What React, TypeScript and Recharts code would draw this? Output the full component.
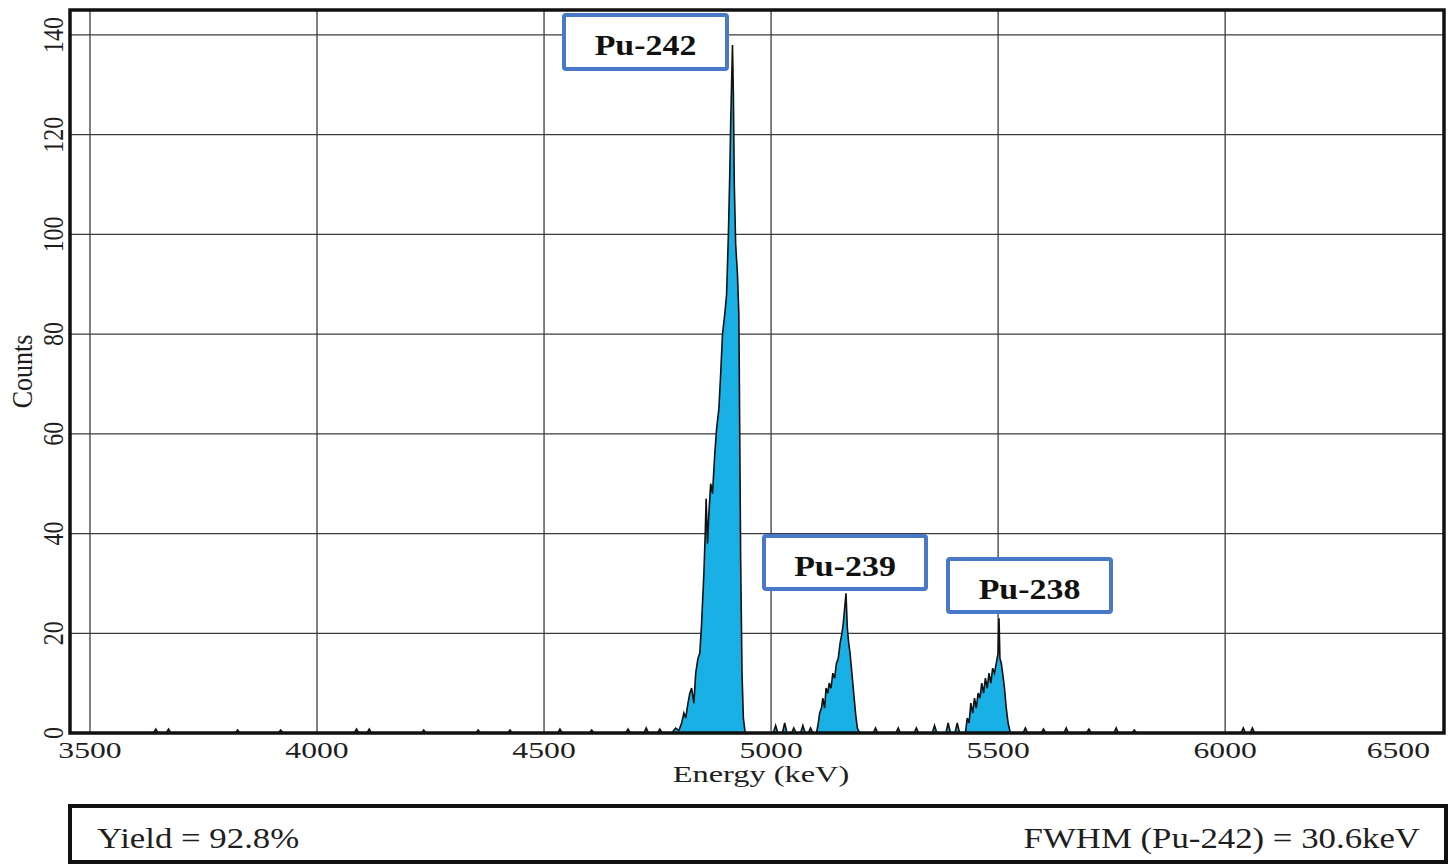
import React from 'react';
import { ComposedChart, Area, XAxis, YAxis, CartesianGrid, ReferenceArea } from 'recharts';

// alpha spectrum (energy in keV, counts per channel)
const energy = [
  3456, 3640, 3645, 3650, 3668, 3673, 3678, 3820, 3825, 3830, 3915, 3920, 3925,
  4082, 4087, 4092, 4110, 4115, 4120, 4230, 4235, 4240, 4350, 4355, 4360,
  4420, 4425, 4430, 4530, 4535, 4540, 4600, 4605, 4610, 4680, 4685, 4690,
  4720, 4725, 4730, 4750, 4755, 4760,
  // Pu-242
  4781, 4790, 4797, 4803, 4808, 4812, 4817, 4821, 4825, 4830, 4834, 4839, 4843,
  4847, 4852, 4855, 4857, 4860, 4863, 4867, 4871, 4876, 4880, 4885, 4889, 4893,
  4898, 4902, 4906, 4909, 4911, 4913, 4915, 4917, 4919, 4922, 4926, 4929, 4931,
  4933, 4936, 4939, 4943,
  5005, 5010, 5015, 5025, 5030, 5035, 5045, 5050, 5055, 5065, 5070, 5075, 5082, 5087, 5092,
  // Pu-239
  5100, 5104, 5107, 5111, 5114, 5118, 5121, 5125, 5128, 5132, 5136, 5140, 5144,
  5148, 5152, 5156, 5159, 5162, 5165, 5168, 5171, 5174, 5178, 5182, 5186, 5190, 5195,
  5225, 5230, 5235, 5275, 5280, 5285, 5315, 5320, 5325, 5355, 5360, 5365,
  5385, 5390, 5395, 5405, 5410, 5415,
  // Pu-238
  5428, 5432, 5436, 5440, 5444, 5448, 5452, 5456, 5460, 5464, 5468, 5472, 5476,
  5480, 5484, 5488, 5492, 5496, 5500, 5502, 5504, 5507, 5510, 5514, 5518, 5522, 5527,
  5555, 5560, 5565, 5595, 5600, 5605, 5645, 5650, 5655, 5695, 5700, 5705,
  5755, 5760, 5765, 5795, 5800, 5805, 6035, 6040, 6045, 6055, 6060, 6065, 6482,
];
const counts = [
  0, 0, 0.8, 0, 0, 0.8, 0, 0, 0.6, 0, 0, 0.6, 0,
  0, 0.8, 0, 0, 0.8, 0, 0, 0.6, 0, 0, 0.6, 0,
  0, 0.6, 0, 0, 0.8, 0, 0, 0.6, 0, 0, 0.8, 0,
  0, 1, 0, 0, 0.8, 0,
  0, 1, 0.5, 2, 4, 3, 6, 8, 9, 6, 12, 15, 16,
  22, 32, 40, 47, 38, 44, 50, 48, 56, 61, 65, 72, 80,
  84, 88, 100, 112, 122, 130, 138, 128, 110, 98, 92, 84, 60,
  35, 12, 3, 0,
  0, 1.5, 0, 0, 2, 0, 0, 1, 0, 0, 1.5, 0, 0, 1, 0,
  0, 2, 4, 5, 7, 5, 9, 8, 10, 9, 12, 11, 14,
  15, 18, 20, 22, 25, 28, 21, 18, 16, 12, 8, 4, 1, 0,
  0, 1, 0, 0, 1, 0, 0, 1, 0, 0, 1.5, 0,
  0, 2, 0, 0, 2, 0,
  0, 3, 2, 6, 4, 7, 5, 8, 7, 10, 8, 11, 9,
  12, 10, 13, 12, 14, 16, 23, 15, 14, 12, 9, 5, 2, 0,
  0, 1, 0, 0, 0.8, 0, 0, 1, 0, 0, 0.8, 0,
  0, 1, 0, 0, 0.6, 0, 0, 1, 0, 0, 1, 0, 0,
];

const xTicks = [3500, 4000, 4500, 5000, 5500, 6000, 6482];
const yTicks = [0, 20, 40, 60, 80, 100, 120, 140];
const peakNames = ['Pu-242', 'Pu-239', 'Pu-238'];
const yieldText = 'Yield = 92.8%';
const fwhmText = 'FWHM (Pu-242) = 30.6keV';

const data = energy.map((e, i) => ({ energy: e, counts: counts[i] }));

const FONT = '"Liberation Serif", "Times New Roman", serif';
const INK = '#1e1e1e';

const XTick = (props: any) => {
  const { x, y, payload } = props;
  const last = payload.value === 6482;
  return (
    <g transform={`translate(${last ? x - 2 : x}, ${y + 25}) scale(1.32, 1)`}>
      <text textAnchor={last ? 'end' : 'middle'} fontFamily={FONT} fontSize={24} fill={INK}>
        {last ? '6500' : payload.value}
      </text>
    </g>
  );
};

const YTick = (props: any) => {
  const { x, y, payload } = props;
  return (
    <g transform={`translate(${x - 7}, ${y}) scale(1.2, 1) rotate(-90)`}>
      <text textAnchor="middle" fontFamily={FONT} fontSize={24} fill={INK}>
        {payload.value}
      </text>
    </g>
  );
};

const CountsLabel = (props: any) => {
  const vb = props.viewBox;
  return (
    <g transform={`translate(${vb.x + 32}, ${vb.y + vb.height / 2}) scale(1.15, 1) rotate(-90)`}>
      <text textAnchor="middle" fontFamily={FONT} fontSize={26} fill={INK}>Counts</text>
    </g>
  );
};

const EnergyLabel = (props: any) => {
  const vb = props.viewBox;
  return (
    <g transform={`translate(${vb.x + vb.width / 2 + 4}, ${vb.y + 49}) scale(1.35, 1)`}>
      <text textAnchor="middle" fontFamily={FONT} fontSize={24} fill={INK}>Energy (keV)</text>
    </g>
  );
};

// label boxes: left, top, width, height
const boxes = [
  [564, 15, 163, 54],
  [764, 536, 162, 53],
  [948, 559, 163, 53],
];

const App = () => (
  <div style={{ position: 'absolute', left: 0, top: 0, width: 1448, height: 866, background: '#fff' }}>
    <ComposedChart width={1448} height={800} data={data} margin={{ top: 10, right: 4, left: 0, bottom: 0 }}>
      <CartesianGrid stroke="#3c3c3c" strokeWidth={1.3} verticalPoints={undefined} />
      <XAxis
        type="number"
        dataKey="energy"
        domain={[3456, 6482]}
        ticks={xTicks}
        tick={<XTick />}
        tickSize={0}
        tickMargin={0}
        axisLine={false}
        height={67}
        allowDataOverflow
        label={<EnergyLabel />}
      />
      <YAxis
        type="number"
        domain={[0, 145]}
        ticks={yTicks}
        tick={<YTick />}
        tickSize={0}
        tickMargin={0}
        axisLine={false}
        width={70}
        allowDataOverflow
        label={<CountsLabel />}
      />
      <Area
        type="linear"
        dataKey="counts"
        stroke="#111"
        strokeWidth={1.6}
        fill="#19b0e6"
        fillOpacity={1}
        isAnimationActive={false}
        dot={false}
        activeDot={false}
      />
      <ReferenceArea x1={3456} x2={6482} y1={0} y2={145} fill="none" stroke="#111" strokeWidth={3.5} />
    </ComposedChart>
    <svg width={1448} height={866} style={{ position: 'absolute', left: 0, top: 0, pointerEvents: 'none' }}>
      {boxes.map(([bx, by, bw, bh], i) => (
        <g key={peakNames[i]}>
          <rect x={bx} y={by} width={bw} height={bh} fill="#fff" stroke="#4a78c8" strokeWidth={4} rx={2} />
          <g transform={`translate(${bx + bw / 2}, ${by + 40}) scale(1.13, 1)`}>
            <text textAnchor="middle" fontFamily={FONT} fontWeight="bold" fontSize={30} fill="#111">
              {peakNames[i]}
            </text>
          </g>
        </g>
      ))}
      <rect x={70} y={806} width={1376} height={56} fill="none" stroke="#111" strokeWidth={4} />
      <g transform="translate(97, 848) scale(1.2, 1)">
        <text fontFamily={FONT} fontSize={29} fill={INK}>{yieldText}</text>
      </g>
      <g transform="translate(1420, 848) scale(1.2, 1)">
        <text textAnchor="end" fontFamily={FONT} fontSize={29} fill={INK}>{fwhmText}</text>
      </g>
    </svg>
  </div>
);

export default App;
